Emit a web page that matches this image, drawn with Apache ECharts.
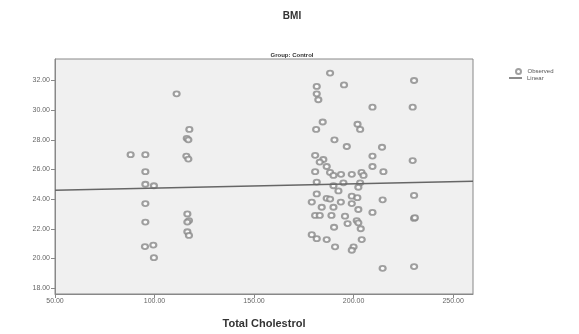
<!DOCTYPE html>
<html>
<head>
<meta charset="utf-8">
<script src="https://cdn.jsdelivr.net/npm/echarts@6/dist/echarts.min.js"></script>
<style>
  html, body { margin: 0; padding: 0; background: #fff; }
  #chart { width: 579px; height: 334px; }
</style>
</head>
<body>
<div id="chart"></div>
<script>
// observed points: total cholestrol / BMI
const cholestrol = [
    88, 95.4, 95.4, 95.4, 99.7, 95.4, 95.4, 95.2, 99.4, 99.7,
    111.1, 117.5, 116.2, 117, 116, 117, 116.5, 117.3, 116.5, 116.5, 117.3,
    188.2, 181.5, 195.2, 181.5, 182.3, 230.4, 209.5, 229.7, 184.5, 181.2,
    202, 203.3, 190.4, 196.6, 214.3, 180.7, 184.8, 186.5, 209.5, 209.5,
    229.7, 183, 215, 180.7, 188.2, 189.9, 193.7, 199.1, 204, 205,
    181.5, 194.9, 203.3, 202.4, 189.9, 192.4, 181.5, 186.5, 188.2, 179,
    193.6, 199.1, 201.9, 199.1, 214.6, 230.4, 184, 189.9, 202.4, 209.5,
    180.7, 183, 188.9, 195.7, 201.6, 202.4, 197, 230.4, 230.8, 190.2,
    203.6, 179, 181.5, 186.5, 204.1, 190.7, 200, 199.1, 214.6, 230.4
];
const bmi = [
    27.0, 27.0, 25.85, 25.0, 24.9, 23.7, 22.45, 20.8, 20.9, 20.05,
    31.1, 28.7, 28.1, 28.0, 26.9, 26.7, 23.0, 22.55, 22.45, 21.8, 21.55,
    32.5, 31.6, 31.7, 31.1, 30.7, 32.0, 30.2, 30.2, 29.2, 28.7,
    29.05, 28.7, 28.0, 27.55, 27.5, 26.95, 26.67, 26.2, 26.9, 26.2,
    26.6, 26.5, 25.85, 25.85, 25.8, 25.6, 25.67, 25.67, 25.8, 25.6,
    25.15, 25.1, 25.1, 24.8, 24.9, 24.55, 24.35, 24.05, 24.0, 23.8,
    23.8, 24.2, 24.1, 23.7, 23.95, 24.25, 23.45, 23.45, 23.3, 23.1,
    22.9, 22.9, 22.9, 22.85, 22.55, 22.4, 22.35, 22.7, 22.75, 22.1,
    22.0, 21.6, 21.33, 21.27, 21.27, 20.78, 20.78, 20.55, 19.33, 19.45
];

// linear fit endpoints
const fitX = [50, 260];
const fitY = [24.6, 25.2];

const xTicks = [50, 100, 150, 200, 250];
const yTicks = [18, 20, 22, 24, 26, 28, 30, 32];

const chart = echarts.init(document.getElementById('chart'));

const font = 'Liberation Sans';

const axisStyle = {
    axisLine: { show: true, lineStyle: { color: '#888', width: 1 } },
    axisTick: { show: true, length: 4, lineStyle: { color: '#888' } },
    splitLine: { show: false },
    axisLabel: {
        color: '#666',
        fontSize: 7,
        fontFamily: font,
        formatter: v => v.toFixed(2)
    }
};

const legendText = { fontSize: 6, color: '#555', fontFamily: font };

chart.setOption({
    animation: false,
    backgroundColor: '#fff',
    title: [
        {
            text: 'BMI',
            left: 287, top: 6, textAlign: 'center',
            textStyle: { fontSize: 10, fontWeight: 'bold', color: '#333', fontFamily: font }
        },
        {
            text: 'Group: Control',
            left: 287, top: 47, textAlign: 'center',
            textStyle: { fontSize: 6, fontWeight: 'bold', color: '#333', fontFamily: font }
        }
    ],
    legend: [
        {
            left: 510, top: 63,
            itemWidth: 8, itemHeight: 5,
            textStyle: legendText,
            data: [{ name: 'Observed', icon: 'emptyCircle' }]
        },
        {
            left: 504, top: 70,
            itemWidth: 13, itemHeight: 1.5,
            textStyle: legendText,
            data: [{ name: 'Linear', icon: 'rect' }]
        }
    ],
    grid: {
        left: 55, right: 106, top: 59, bottom: 37,
        show: true,
        backgroundColor: '#f0f0f0',
        borderColor: '#888',
        borderWidth: 1
    },
    xAxis: {
        type: 'value',
        min: 50, max: 260,
        name: 'Total Cholestrol',
        nameLocation: 'middle',
        nameGap: 24,
        nameTextStyle: { fontSize: 11, fontWeight: 'bold', color: '#333', fontFamily: font },
        ...axisStyle,
        axisTick: { ...axisStyle.axisTick, customValues: xTicks },
        axisLabel: { ...axisStyle.axisLabel, customValues: xTicks, margin: 4 }
    },
    yAxis: {
        type: 'value',
        min: 17.6, max: 33.45,
        ...axisStyle,
        axisTick: { ...axisStyle.axisTick, customValues: yTicks },
        axisLabel: { ...axisStyle.axisLabel, customValues: yTicks, margin: 5 }
    },
    series: [
        {
            name: 'Observed',
            type: 'scatter',
            symbol: 'emptyCircle',
            symbolSize: [6, 5],
            itemStyle: { color: '#888', borderColor: '#777', borderWidth: 0.9 },
            data: cholestrol.map((x, i) => [x, bmi[i]])
        },
        {
            name: 'Linear',
            type: 'line',
            symbol: 'none',
            lineStyle: { color: '#666', width: 1.5 },
            itemStyle: { color: '#666' },
            data: fitX.map((x, i) => [x, fitY[i]])
        }
    ]
});
</script>
</body>
</html>
